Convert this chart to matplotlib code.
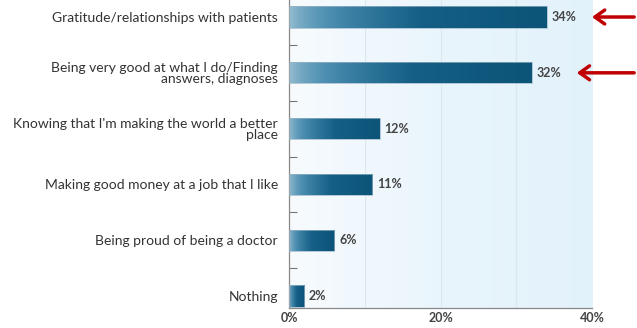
import numpy as np
import matplotlib.pyplot as plt
from matplotlib.colors import LinearSegmentedColormap

plt.rcParams['font.family'] = ['Lato', 'DejaVu Sans']

categories = ['Gratitude/relationships with patients',
              'Being very good at what I do/Finding\nanswers, diagnoses',
              "Knowing that I'm making the world a better\nplace",
              'Making good money at a job that I like',
              'Being proud of being a doctor',
              'Nothing']
values = [34, 32, 12, 11, 6, 2]
xticks = [0, 20, 40]
xticklabels = ['0%', '20%', '40%']
highlighted = [0, 1]

fig = plt.figure(figsize=(6.37, 3.28), dpi=100)
ax = fig.add_axes([0.4537, 0.061, 0.476, 0.939])

n = len(categories)
y = np.arange(n)
ax.set_xlim(0, 40)
ax.set_ylim(n - 0.785, -0.305)
y0, y1 = ax.get_ylim()

# pale blue backdrop for the plot area
bg = LinearSegmentedColormap.from_list('bg', ['#f7fbfe', '#e9f5fc', '#e2f2fb'])
ax.imshow(np.linspace(0, 1, 256).reshape(1, -1), cmap=bg, aspect='auto',
          extent=[0, 40, y0, y1], zorder=0)
for gx in [10, 20, 30]:
    ax.axvline(gx, color='#dce7ed', lw=0.8, zorder=1)

bar_cmap = LinearSegmentedColormap.from_list(
    'bar', ['#9cc1d4', '#4a8db0', '#155f86', '#0c5478'])
bars = ax.barh(y, values, height=0.38, color='none', edgecolor='#9ab4c4',
               lw=0.5, zorder=3)
for b, v in zip(bars, values):
    im = ax.imshow(np.linspace(0, 1, 256).reshape(1, -1) ** 0.6, cmap=bar_cmap,
                   aspect='auto', zorder=2,
                   extent=[0, v, b.get_y() + b.get_height(), b.get_y()])
    im.set_clip_path(b)
    ax.text(v + 0.6, b.get_y() + b.get_height() / 2, f'{v}%', va='center',
            ha='left', fontsize=9, color='#444444', fontweight='bold')

ax.set_yticks(y)
ax.set_yticklabels(categories, fontsize=10, color='#333333', linespacing=0.95)
ax.set_yticks(np.arange(n - 1) + 0.5, minor=True)
ax.tick_params(axis='y', which='major', length=0, pad=8)
ax.tick_params(axis='y', which='minor', length=6, direction='in',
               color='#777777', width=0.8)
ax.set_xticks(xticks)
ax.set_xticklabels(xticklabels, fontsize=9, color='#444444', fontweight='bold')
ax.tick_params(axis='x', length=0, pad=3)
for s in ['top', 'right']:
    ax.spines[s].set_visible(False)
for s in ['left', 'bottom']:
    ax.spines[s].set_color('#888888')
    ax.spines[s].set_linewidth(0.9)

# red arrows calling out the two leading answers
for i in highlighted:
    ax.annotate('', xy=(values[i] + 5.6, i), xytext=(45.9, i),
                annotation_clip=False,
                arrowprops=dict(arrowstyle='->,head_length=0.7,head_width=0.5',
                                color='#c00000', lw=2.5))

fig.savefig('out.png', dpi=100)
